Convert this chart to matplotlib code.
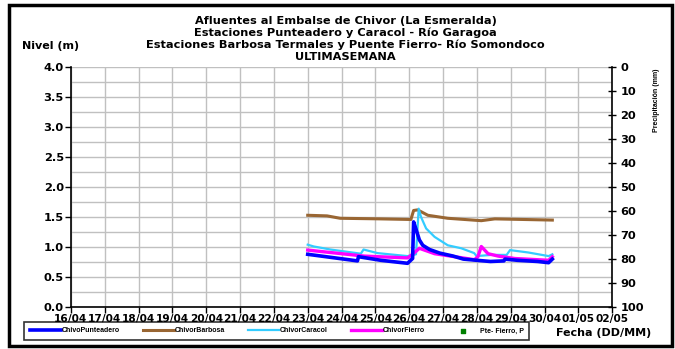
import matplotlib
matplotlib.use("Agg")
import matplotlib.pyplot as plt
from matplotlib.patches import Rectangle
from matplotlib.ticker import MultipleLocator

# day labels on the x axis (16/04 .. 02/05)
fechas = ["16/04", "17/04", "18/04", "19/04", "20/04", "21/04", "22/04", "23/04",
          "24/04", "25/04", "26/04", "27/04", "28/04", "29/04", "30/04", "01/05", "02/05"]

# level series: time in days since 16/04, level in m
punteadero_t = [7.00, 7.67, 8.47, 8.50, 9.16, 9.95, 10.10, 10.13, 10.20, 10.30, 10.40,
                10.60, 10.90, 11.30, 11.60, 12.00, 12.40, 12.80, 12.83, 13.20, 13.80, 14.12, 14.23]
punteadero_v = [0.88, 0.83, 0.77, 0.84, 0.78, 0.73, 0.81, 1.42, 1.30, 1.12, 1.03,
                0.96, 0.90, 0.85, 0.80, 0.78, 0.76, 0.77, 0.80, 0.78, 0.76, 0.74, 0.80]

barbosa_t = [7.00, 7.57, 7.96, 9.16, 10.05, 10.13, 10.25, 10.55, 11.14, 12.13, 12.53, 14.23]
barbosa_v = [1.53, 1.52, 1.48, 1.47, 1.46, 1.61, 1.62, 1.53, 1.48, 1.44, 1.47, 1.45]

caracol_t = [7.00, 7.18, 7.67, 8.57, 8.65, 9.06, 9.95, 10.20, 10.28, 10.35, 10.50,
             10.75, 11.14, 11.54, 11.92, 11.99, 12.43, 12.88, 12.98, 13.52, 14.12, 14.23]
caracol_v = [1.04, 1.01, 0.96, 0.89, 0.96, 0.90, 0.85, 0.88, 1.64, 1.50, 1.31,
             1.17, 1.03, 0.98, 0.90, 0.85, 0.87, 0.87, 0.95, 0.91, 0.85, 0.88]

fierro_t = [7.00, 7.67, 8.67, 9.95, 10.10, 10.30, 10.75, 11.34, 11.93, 12.03, 12.13,
            12.33, 12.63, 13.12, 14.12, 14.23]
fierro_v = [0.95, 0.91, 0.85, 0.82, 0.88, 0.98, 0.89, 0.84, 0.79, 0.84, 1.01,
            0.89, 0.85, 0.81, 0.78, 0.84]

# rainfall at Pte- Fierro (no readings shown this week)
lluvia_t = []
lluvia_v = []

titulo = ["Afluentes al Embalse de Chivor (La Esmeralda)",
          "Estaciones Punteadero y Caracol - Río Garagoa",
          "Estaciones Barbosa Termales y Puente Fierro- Río Somondoco",
          "ULTIMASEMANA"]

BOLD = dict(family="DejaVu Sans", fontweight="bold")

fig = plt.figure(figsize=(6.75, 3.49), dpi=100)
ax = fig.add_axes([0.105, 0.120, 0.802, 0.688])

ax.plot(punteadero_t, punteadero_v, color="#0000FF", lw=2.6, label="ChivoPunteadero", zorder=5)
ax.plot(barbosa_t, barbosa_v, color="#996633", lw=2.2, label="ChivorBarbosa", zorder=3)
ax.plot(caracol_t, caracol_v, color="#33CCFF", lw=1.6, label="ChivorCaracol", zorder=4)
ax.plot(fierro_t, fierro_v, color="#FF00FF", lw=2.4, label="ChivorFierro", zorder=4)

ax.set_xlim(0, len(fechas) - 1)
ax.set_ylim(0, 4)
ax.set_xticks(range(len(fechas)))
ax.set_xticklabels(fechas)
ax.yaxis.set_major_locator(MultipleLocator(0.5))
ax.yaxis.set_minor_locator(MultipleLocator(0.25))
ax.yaxis.set_major_formatter(plt.FormatStrFormatter("%.1f"))
ax.grid(True, which="both", color="#C0C0C0", lw=1.0)
ax.grid(False, which="minor", axis="x")
ax.set_axisbelow(True)
for s in ["top", "right"]:
    ax.spines[s].set_visible(False)
ax.spines["left"].set_linewidth(1.2)
ax.spines["bottom"].set_linewidth(1.2)
ax.tick_params(which="major", length=4, width=1, pad=1, direction="out")
ax.tick_params(which="minor", length=0)
for lab in ax.get_xticklabels():
    lab.set(fontsize=7.6, **BOLD)
for lab in ax.get_yticklabels():
    lab.set(fontsize=8.2, **BOLD)

ax2 = ax.twinx()
ax2.set_ylim(100, 0)
ax2.yaxis.set_major_locator(MultipleLocator(10))
ax2.scatter(lluvia_t, lluvia_v, s=6, marker="s", color="#008000", label="Pte- Fierro, P")
for s in ["top", "left", "bottom"]:
    ax2.spines[s].set_visible(False)
ax2.spines["right"].set_linewidth(1.2)
ax2.tick_params(length=6, width=1, direction="inout", pad=3)
for lab in ax2.get_yticklabels():
    lab.set(fontsize=8.2, **BOLD)

# title lines
for i, linea in enumerate(titulo):
    fig.text(0.512, 1 - (21 + 12 * i) / 349, linea, ha="center", va="center",
             fontsize=8.2, **BOLD)
fig.text(0.032, 1 - 46 / 349, "Nivel (m)", ha="left", va="center", fontsize=8, **BOLD)
fig.text(0.973, 0.805, "Precipitación (mm)", ha="center", va="top", rotation=90,
         family="Liberation Sans", fontweight="bold", fontsize=5)
fig.text(0.895, 1 - 333 / 349, "Fecha (DD/MM)", ha="center", va="center", fontsize=8, **BOLD)

h1, l1 = ax.get_legend_handles_labels()
h2, l2 = ax2.get_legend_handles_labels()
leg = fig.legend(h1 + h2, l1 + l2, loc="center", bbox_to_anchor=(0.41, 1 - 331 / 349), ncol=5,
                 prop={"family": "Liberation Sans", "weight": "bold", "size": 5},
                 frameon=True, fancybox=False, edgecolor="black", handlelength=4.5,
                 handletextpad=0.1, columnspacing=3.3, borderpad=0.8, markerscale=1.0)
leg.get_frame().set_linewidth(1.2)

fig.patches.append(Rectangle((0.013, 0.008), 0.983, 0.978, transform=fig.transFigure,
                             fill=False, edgecolor="black", lw=2.5))

fig.savefig("out.png", dpi=100)
